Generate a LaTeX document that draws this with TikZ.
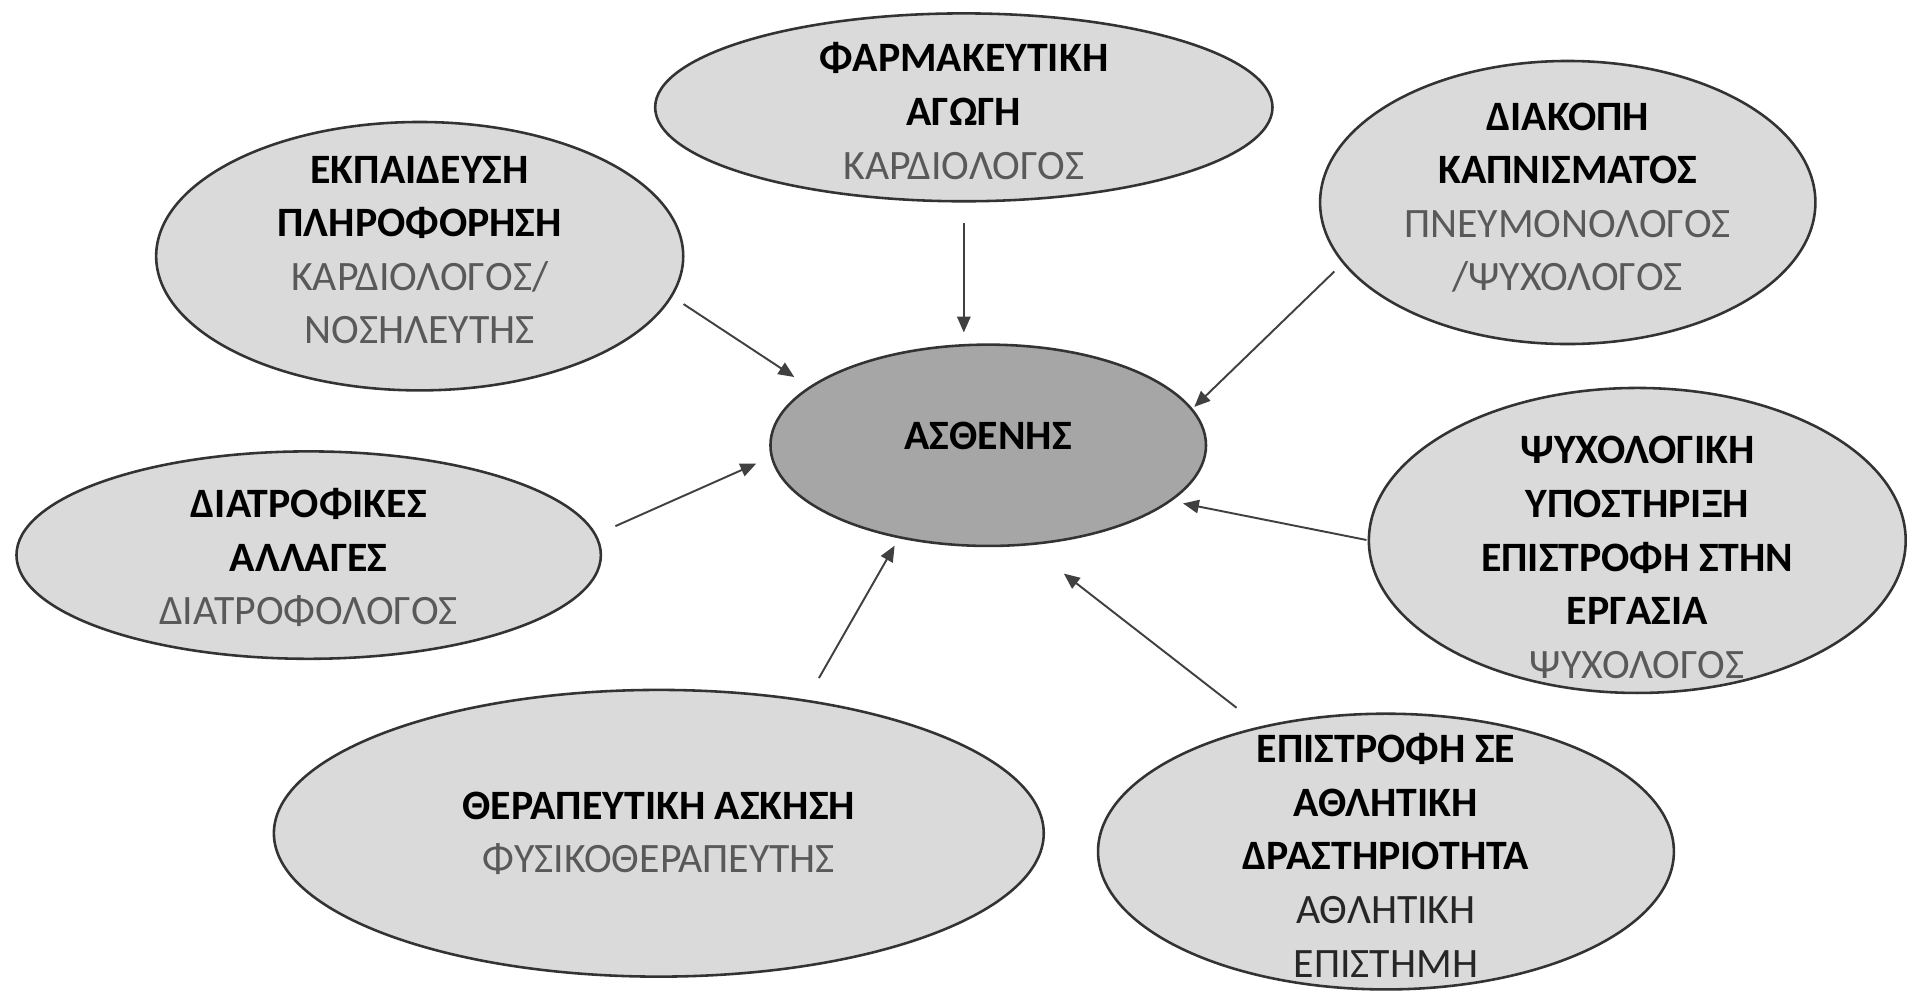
\documentclass[tikz,border=0pt]{standalone}
\usepackage{fontspec}
\setmainfont{Carlito}
\usetikzlibrary{shapes.geometric,arrows.meta}
\definecolor{bubblefill}{HTML}{DADADA}
\definecolor{corefill}{HTML}{A6A6A6}
\definecolor{rolegray}{HTML}{595959}
\newcommand{\prof}[1]{{\color{rolegray}#1}}
\tikzset{
  bubble/.style={ellipse, draw=black!80, line width=1.2pt, fill=bubblefill, inner sep=0pt, outer sep=0pt},
  core/.style={bubble, fill=corefill},
  txt/.style={align=center, inner sep=0pt, font=\fontsize{19.5pt}{25pt}\selectfont},
  arr/.style={draw=black!75, line width=0.9pt, -{Triangle[length=2.6mm,width=2.2mm]}}
}

\begin{document}
\begin{tikzpicture}
    \useasboundingbox (0,0) rectangle (31.36,16.32);
    \node[bubble, minimum width=10.12cm, minimum height=3.08cm] (farm) at (15.80,14.56) {};
    \node[bubble, minimum width=8.64cm, minimum height=4.40cm] (ekp) at (6.88,12.12) {};
    \node[bubble, minimum width=8.12cm, minimum height=4.64cm] (diak) at (25.70,13.00) {};
    \node[core, minimum width=7.14cm, minimum height=3.30cm] (asth) at (16.20,9.02) {};
    \node[bubble, minimum width=9.58cm, minimum height=3.40cm] (diat) at (5.06,7.22) {};
    \node[bubble, minimum width=8.80cm, minimum height=5.00cm] (psy) at (26.84,7.46) {};
    \node[bubble, minimum width=12.62cm, minimum height=4.70cm] (ther) at (10.80,2.66) {};
    \node[bubble, minimum width=9.44cm, minimum height=4.52cm] (epis) at (22.72,2.36) {};

    \node[txt] (farm-t) at ([yshift=-0.06cm]farm) {\textbf{ΦΑΡΜΑΚΕΥΤΙΚΗ}\\\textbf{ΑΓΩΓΗ}\\\prof{ΚΑΡΔΙΟΛΟΓΟΣ}};
    \node[txt] (ekp-t) at ([yshift=0.1cm]ekp) {\textbf{ΕΚΠΑΙΔΕΥΣΗ}\\\textbf{ΠΛΗΡΟΦΟΡΗΣΗ}\\\prof{ΚΑΡΔΙΟΛΟΓΟΣ/}\\\prof{ΝΟΣΗΛΕΥΤΗΣ}};
    \node[txt] (diak-t) at ([yshift=0.08cm]diak) {\textbf{ΔΙΑΚΟΠΗ}\\\textbf{ΚΑΠΝΙΣΜΑΤΟΣ}\\\prof{ΠΝΕΥΜΟΝΟΛΟΓΟΣ}\\\prof{/ΨΥΧΟΛΟΓΟΣ}};
    \node[txt] (asth-t) at ([yshift=0.16cm]asth) {\textbf{ΑΣΘΕΝΗΣ}};
    \node[txt] (diat-t) at ([yshift=-0.04cm]diat) {\textbf{ΔΙΑΤΡΟΦΙΚΕΣ}\\\textbf{ΑΛΛΑΓΕΣ}\\\prof{ΔΙΑΤΡΟΦΟΛΟΓΟΣ}};
    \node[txt] (psy-t) at ([yshift=-0.28cm]psy) {\textbf{ΨΥΧΟΛΟΓΙΚΗ}\\\textbf{ΥΠΟΣΤΗΡΙΞΗ}\\\textbf{ΕΠΙΣΤΡΟΦΗ ΣΤΗΝ}\\\textbf{ΕΡΓΑΣΙΑ}\\\prof{ΨΥΧΟΛΟΓΟΣ}};
    \node[txt] (ther-t) at (ther) {\textbf{ΘΕΡΑΠΕΥΤΙΚΗ ΑΣΚΗΣΗ}\\\prof{ΦΥΣΙΚΟΘΕΡΑΠΕΥΤΗΣ}};
    \node[txt] (epis-t) at ([yshift=-0.06cm]epis) {\textbf{ΕΠΙΣΤΡΟΦΗ ΣΕ}\\\textbf{ΑΘΛΗΤΙΚΗ}\\\textbf{ΔΡΑΣΤΗΡΙΟΤΗΤΑ}\\{\color{black!85}ΑΘΛΗΤΙΚΗ}\\{\color{black!85}ΕΠΙΣΤΗΜΗ}};

    \draw[arr, shorten <=0.36cm, shorten >=0.2cm] (farm.south) -- (farm.south |- asth.north);
    \draw[arr, shorten <=0.24cm, shorten >=0.31cm] (ekp.-9.2) -- (asth.162.5);
    \draw[arr, shorten <=0.21cm, shorten >=0.06cm] (diak.195.6) -- (asth.10.2);
    \draw[arr, shorten <=0.36cm, shorten >=0.28cm] (diat.4.4) -- (asth.183.1);
    \draw[arr, shorten <=0.04cm, shorten >=0.22cm] (psy.180.6) -- (asth.-17.75);
    \draw[arr, shorten <=0.43cm, shorten >=0.16cm] (ther.42.3) -- (asth.226.2);
    \draw[arr, shorten <=0.52cm, shorten >=0.78cm] (epis.135.1) -- (asth.-69);
\end{tikzpicture}
\end{document}
